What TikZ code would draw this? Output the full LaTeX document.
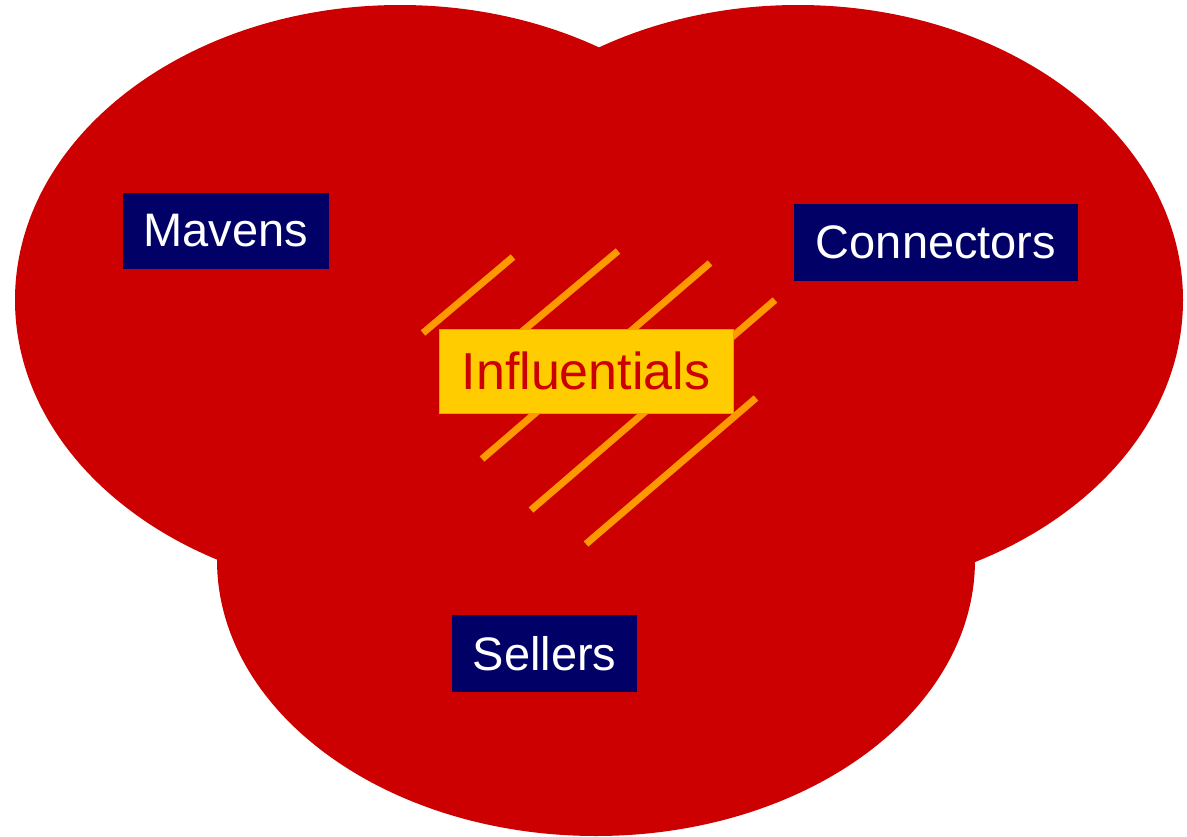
\documentclass[tikz,border=0pt]{standalone}
\usepackage{fontspec}
\setmainfont{Liberation Sans}
\definecolor{blobred}{RGB}{204,0,0}
\definecolor{labelnavy}{RGB}{0,0,102}
\definecolor{hilite}{RGB}{255,204,0}
\definecolor{hatch}{RGB}{255,153,0}
\tikzset{
  blob/.style={fill=blobred},
  labelbox/.style={fill=labelnavy, text=white, inner sep=0pt,
    font=\fontsize{47}{50}\selectfont},
  centrebox/.style={fill=hilite, draw=hatch, line width=1pt, text=blobred,
    inner sep=0pt, font=\fontsize{52}{55}\selectfont},
  hatchline/.style={draw=hatch, line width=7pt, line cap=butt}
}
\begin{document}
\begin{tikzpicture}[x=1pt, y=-1pt]
  \useasboundingbox (0,0) rectangle (1187,836);

  % three overlapping groups
  \fill[blob] (400,300) ellipse [x radius=385pt, y radius=295pt];
  \fill[blob] (798,300) ellipse [x radius=385pt, y radius=295pt];
  \fill[blob] (596,560) ellipse [x radius=379pt, y radius=276pt];

  % hatching around the centre
  \draw[hatchline] (423,333) -- (513,257);
  \draw[hatchline] (450,392) -- (618,251);
  \draw[hatchline] (482,459) -- (710,263);
  \draw[hatchline] (531,510) -- (775,300);
  \draw[hatchline] (586,544) -- (756,398);

  % group labels
  \node[labelbox, minimum width=206pt, minimum height=76pt] (mavens) at (226,231) {Mavens};
  \node[labelbox, minimum width=284pt, minimum height=77pt] (connectors) at (936,242.5) {Connectors};
  \node[labelbox, minimum width=185pt, minimum height=77pt] (sellers) at (544.5,653.5) {Sellers};

  % overlap label
  \node[centrebox, minimum width=294pt, minimum height=84pt] (influentials) at (586,371) {Influentials};
\end{tikzpicture}
\end{document}
